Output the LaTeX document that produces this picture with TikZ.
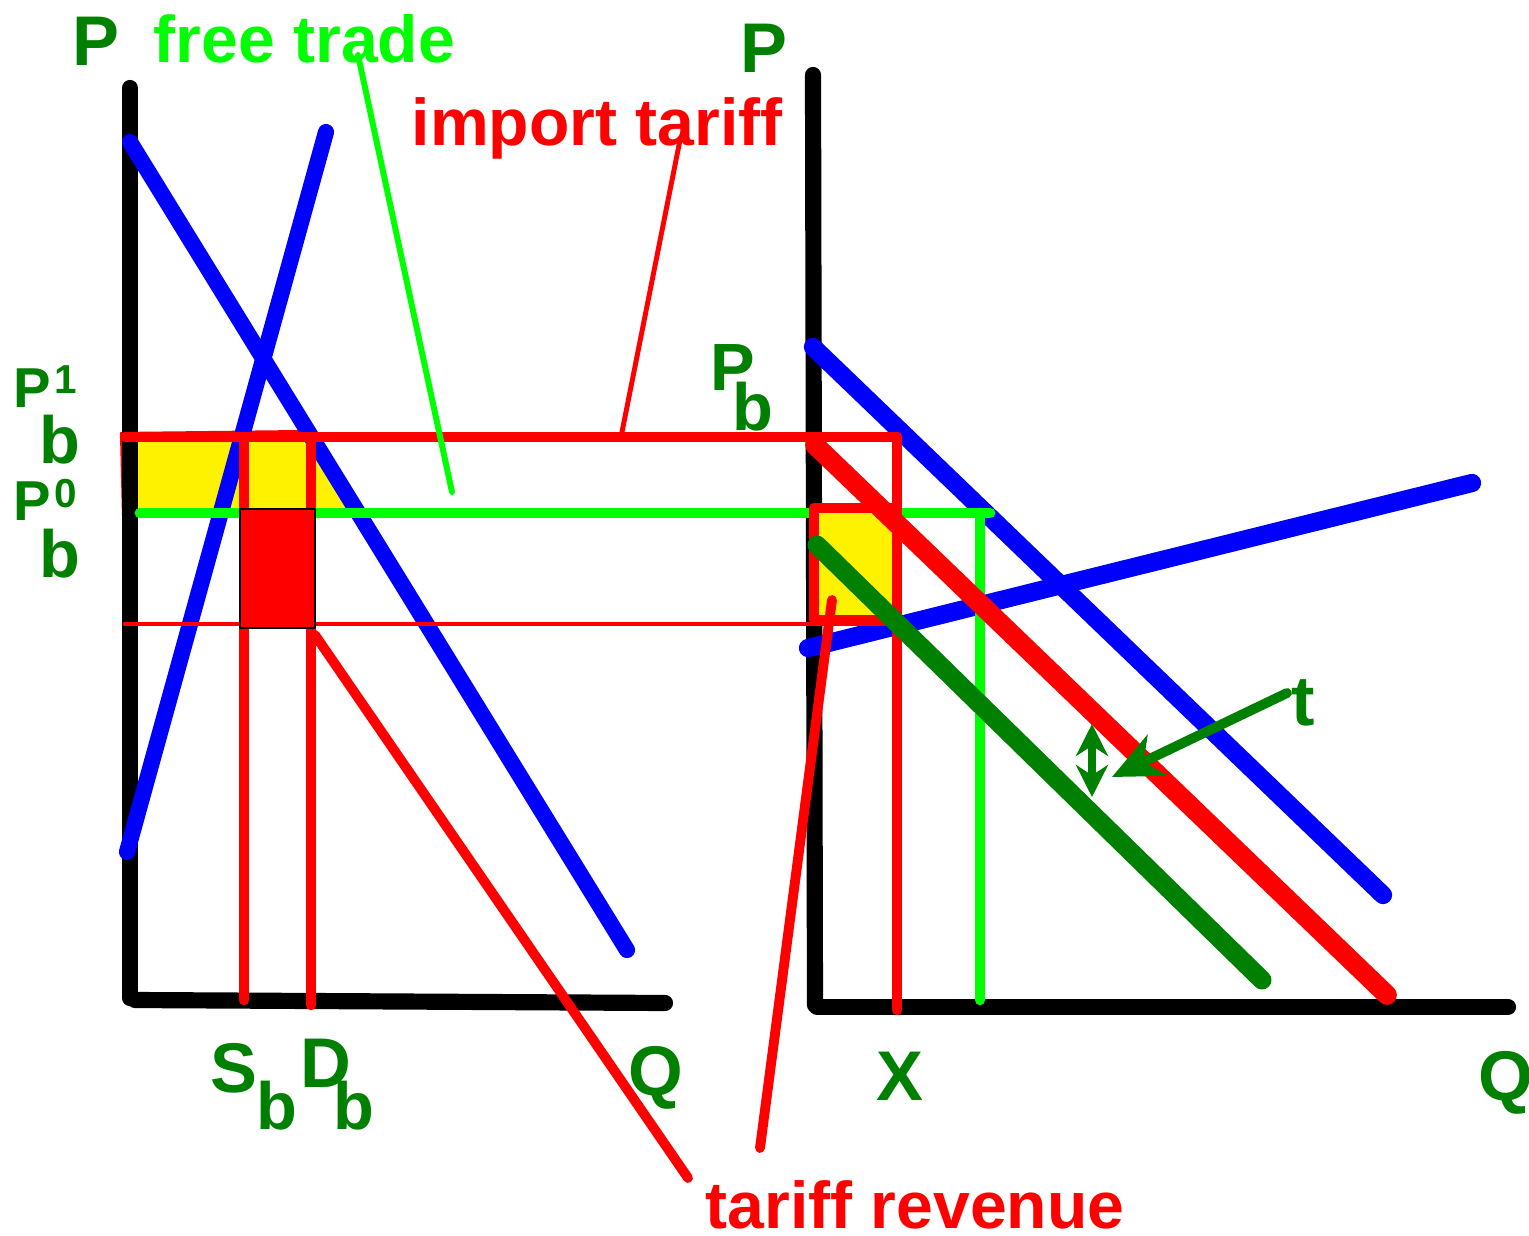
\documentclass[tikz,border=0pt]{standalone}
\usepackage{fontspec}
\setmainfont{Liberation Sans}
\usetikzlibrary{arrows.meta}
\definecolor{dkgreen}{RGB}{0,128,0}
\definecolor{ltgreen}{RGB}{0,255,0}
\begin{document}
\begin{tikzpicture}[x=0.01cm,y=-0.01cm,line cap=round,line join=round,
	axis/.style={line width=4.6pt,black},
	curve/.style={line width=4.6pt,blue},
	redline/.style={line width=3pt,red},
	thinred/.style={line width=1.4pt,red},
	lab/.style={text=dkgreen,inner sep=0pt,anchor=base west,font=\bfseries\fontsize{20}{22}\selectfont},
	sublab/.style={lab,font=\bfseries\fontsize{19}{21}\selectfont},
	txt/.style={inner sep=0pt,anchor=base west,font=\bfseries\fontsize{18.8}{20}\selectfont}]
	\useasboundingbox (0,0) rectangle (1529,1236);
	% area under the new price
	\filldraw[fill=yellow,draw=red,line width=0.6pt] (121,433) -- (306,431) -- (358,516) -- (123,516) -- cycle;
	% axes
	\draw[axis] (130,88) -- (130,998);
	\draw[axis] (135,1000) -- (665,1003);
	\draw[axis] (813,75) -- (815,1005);
	\draw[axis] (817,1007) -- (1508,1007);
	% supply and demand
	\draw[curve] (130,142) -- (627,950);
	\draw[curve] (326,132) -- (127,852);
	\draw[curve,line width=5.2pt] (813,347) -- (1383,895);
	\draw[curve,line width=5.2pt] (808,648) -- (1472,483);
	% prices
	\draw[redline] (125,437) -- (897,437);
	\draw[redline] (244,440) -- (244,1000);
	\draw[redline] (311,440) -- (311,1005);
	\draw[thinred] (125,624) -- (895,624);
	\draw[ltgreen,line width=3.1pt] (140,513) -- (990,513);
	\draw[ltgreen,line width=3pt] (980,513) -- (980,1000);
	% tariff revenue
	\filldraw[fill=red,draw=black,line width=0.8pt] (240,509) rectangle (315,628);
	\filldraw[fill=yellow,draw=red,line width=3pt] (814,508) rectangle (897,620);
	\draw[redline] (897,437) -- (897,1010);
	% shifted curves
	\draw[red,line width=5.6pt] (815,445) -- (1387,995);
	\draw[dkgreen,line width=5.4pt] (817,545) -- (1262,980);

	\node[txt,text=ltgreen] (free) at (153,62) {free trade};
	\node[txt,text=red] (tariff) at (411,145) {import tariff};
	\node[txt,text=red] (revenue) at (705,1228) {tariff revenue};
	\coordinate (freeA) at (358,55);
	\coordinate (freeB) at (452,492);
	\coordinate (tariffA) at (680,140);
	\coordinate (tariffB) at (622,432);
	\coordinate (revA) at (315,635);
	\coordinate (revB) at (688,1178);
	\coordinate (revC) at (832,600);
	\coordinate (revD) at (760,1148);
	\draw[ltgreen,line width=1.7pt] (freeA) -- (freeB);
	\draw[thinred] (tariffA) -- (tariffB);
	\draw[redline,line width=2.8pt] (revA) -- (revB);
	\draw[redline,line width=2.8pt] (revC) -- (revD);

	% the tariff t
	\coordinate (gapTop) at (1092,724);
	\coordinate (gapBot) at (1092,797);
	\coordinate (tTail) at (1287,693);
	\coordinate (tTip) at (1112,777);
	\draw[dkgreen,line width=2.2pt,{Stealth[length=3.2mm,width=3.2mm]}-{Stealth[length=3.2mm,width=3.2mm]}] (gapTop) -- (gapBot);
	\draw[dkgreen,line width=2.8pt,-{Stealth[length=5mm,width=4.5mm,inset=1.5mm]}] (tTail) -- (tTip);

	% labels
	\node[lab] (pleft) at (72,65) {P};
	\node[lab] (pright) at (740,72) {P};
	\node[lab,font=\bfseries\fontsize{16}{18}\selectfont] (pone) at (13,407) {P};
	\node[lab,font=\bfseries\fontsize{11.5}{13}\selectfont] (pones) at (54,393) {1};
	\node[sublab] (poneb) at (39,463) {b};
	\node[lab,font=\bfseries\fontsize{16}{18}\selectfont] (pzero) at (13,520) {P};
	\node[lab,font=\bfseries\fontsize{11.5}{13}\selectfont] (pzeros) at (54,507) {0};
	\node[sublab] (pzerob) at (39,577) {b};
	\node[sublab] (pb) at (710,390) {P};
	\node[sublab] (pbb) at (732,430) {b};
	\node[lab] (sup) at (210,1092) {S};
	\node[sublab] (supb) at (256,1129) {b};
	\node[lab] (dem) at (300,1087) {D};
	\node[sublab] (demb) at (333,1129) {b};
	\node[lab] (qleft) at (628,1095) {Q};
	\node[lab] (xlab) at (876,1100) {X};
	\node[lab] (qright) at (1478,1100) {Q};
	\node[lab] (tlab) at (1291,725) {t};
\end{tikzpicture}
\end{document}
